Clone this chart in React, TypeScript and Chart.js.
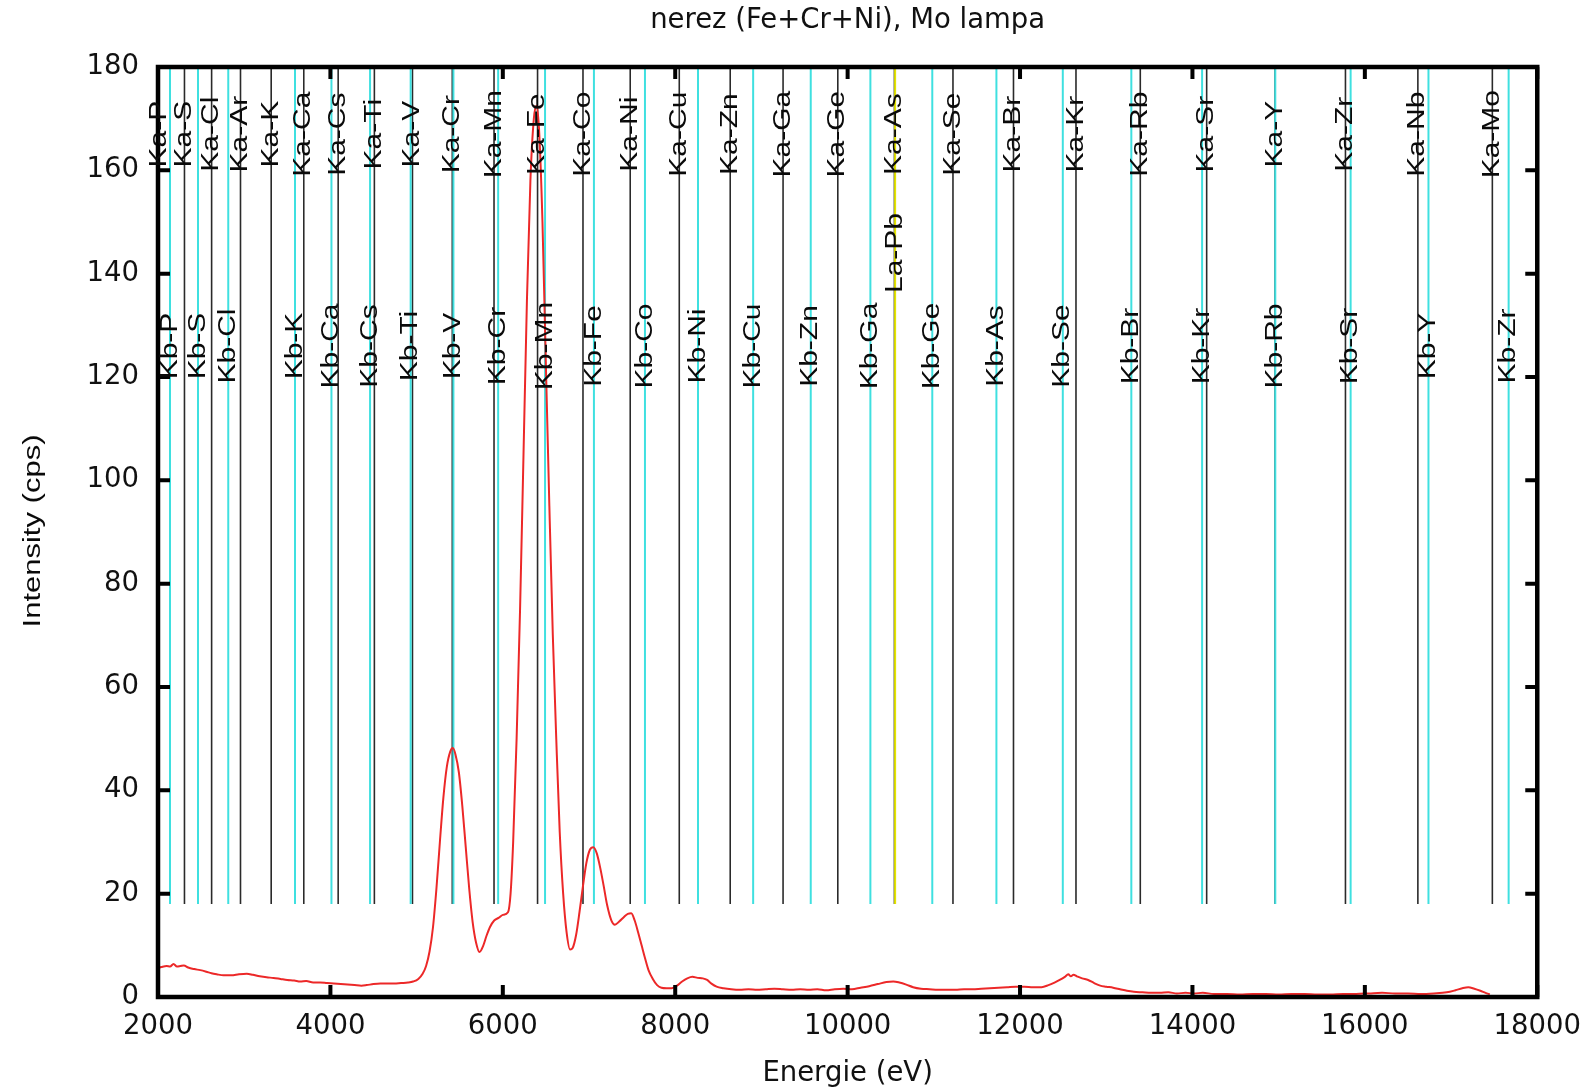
import React, { useEffect, useRef } from "react";
import { Chart, registerables } from "chart.js";

Chart.register(...registerables);

// ---------- data ----------
const TITLE = "nerez (Fe+Cr+Ni), Mo lampa";
const X_TITLE = "Energie (eV)";
const Y_TITLE = "Intensity (cps)";

const X_MIN = 2000;
const X_MAX = 18000;
const X_STEP = 2000;
const Y_MIN = 0;
const Y_MAX = 180;
const Y_STEP = 20;

// measured spectrum (energy in eV, intensity in cps)
const SPEC_E = [
  2000, 2040, 2100, 2140, 2180, 2220, 2260, 2300, 2350, 2420, 2490, 2560, 2620, 2680, 2760, 2850, 2940, 3030, 3100, 3180,
  3260, 3340, 3420, 3500, 3580, 3650, 3720, 3800, 3880, 3960, 4040, 4120, 4200, 4280, 4360, 4420, 4500, 4580, 4660, 4740,
  4820, 4900, 4960, 5020, 5070, 5110, 5150, 5190, 5230, 5270, 5310, 5350, 5390, 5420, 5450, 5490, 5530, 5570, 5610, 5650,
  5690, 5730, 5770, 5810, 5850, 5900, 5950, 6000, 6060, 6090, 6120, 6160, 6200, 6240, 6280, 6320, 6360, 6390, 6420, 6460,
  6500, 6540, 6580, 6620, 6660, 6700, 6740, 6780, 6810, 6850, 6890, 6930, 6970, 7010, 7050, 7090, 7130, 7170, 7210, 7260,
  7300, 7350, 7400, 7450, 7490, 7530, 7570, 7610, 7650, 7690, 7740, 7790, 7840, 7900, 7960, 8020, 8080, 8140, 8200, 8260,
  8320, 8370, 8420, 8480, 8560, 8650, 8750, 8850, 8950, 9050, 9150, 9250, 9350, 9450, 9550, 9650, 9750, 9850, 9950, 10050,
  10150, 10250, 10350, 10450, 10530, 10600, 10680, 10760, 10850, 10950, 11050, 11150, 11250, 11350, 11450, 11550, 11650, 11750, 11850, 11950,
  12050, 12150, 12250, 12330, 12400, 12460, 12520, 12560, 12590, 12620, 12660, 12720, 12790, 12860, 12930, 13000, 13080, 13160, 13240, 13320,
  13420, 13520, 13620, 13720, 13820, 13920, 14020, 14120, 14250, 14400, 14550, 14700, 14850, 15000, 15150, 15300, 15450, 15600, 15750, 15900,
  16050, 16200, 16350, 16500, 16650, 16800, 16950, 17050, 17130, 17200, 17270, 17340, 17400, 17450,
];
const SPEC_I = [
  5.6, 5.8, 6.0, 5.9, 6.4, 5.9, 6.0, 6.1, 5.7, 5.4, 5.2, 4.9, 4.6, 4.4, 4.2, 4.2, 4.4, 4.5, 4.3, 4.0,
  3.8, 3.7, 3.5, 3.3, 3.2, 3.0, 3.1, 2.8, 2.8, 2.7, 2.6, 2.5, 2.4, 2.3, 2.2, 2.3, 2.5, 2.6, 2.6, 2.6,
  2.7, 2.8, 3.0, 3.5, 4.5, 6.0, 8.8, 13.5, 21, 30, 38.5, 44.5, 47.5, 48.2, 47, 43.5, 37, 29, 21, 14.5,
  10.5, 8.7, 9.8, 11.8, 13.5, 14.8, 15.3, 15.9, 16.4, 20, 30, 50, 75, 105, 135, 158, 170, 172.5, 168, 150,
  122, 95, 70, 50, 32, 20, 12.5, 9.2, 9.5, 12, 16.5, 21.5, 26, 28.5, 29, 27.8, 25, 21.5, 17.8, 14.8,
  14.0, 14.6, 15.4, 16.1, 16.2, 14.8, 12.5, 10, 7.5, 5.2, 3.5, 2.3, 1.8, 1.7, 1.7, 2.2, 3.0, 3.6, 3.9, 3.7,
  3.6, 3.3, 2.6, 2.0, 1.7, 1.5, 1.4, 1.5, 1.4, 1.5, 1.6, 1.5, 1.4, 1.5, 1.4, 1.5, 1.3, 1.5, 1.6, 1.5,
  1.8, 2.1, 2.5, 2.9, 3.0, 2.8, 2.4, 1.9, 1.6, 1.5, 1.4, 1.4, 1.4, 1.5, 1.5, 1.6, 1.7, 1.8, 1.9, 2.0,
  2.0, 1.9, 1.9, 2.3, 2.8, 3.3, 3.9, 4.4, 4.0, 4.3, 4.0, 3.6, 3.3, 2.7, 2.2, 2.0, 1.8, 1.5, 1.2, 1.0,
  0.9, 0.8, 0.8, 0.9, 0.7, 0.8, 0.7, 0.8, 0.6, 0.6, 0.5, 0.6, 0.6, 0.5, 0.6, 0.6, 0.5, 0.5, 0.6, 0.6,
  0.7, 0.8, 0.7, 0.7, 0.6, 0.7, 0.9, 1.3, 1.7, 1.9, 1.6, 1.2, 0.8, 0.5,
];

// marker lines
const KA_NAMES = ["P", "S", "Cl", "Ar", "K", "Ca", "Cs", "Ti", "V", "Cr", "Mn", "Fe", "Co", "Ni", "Cu", "Zn", "Ga", "Ge", "As", "Se", "Br", "Kr", "Rb", "Sr", "Y", "Zr", "Nb", "Mo"];
const KA_ENERGY = [2013, 2307, 2622, 2957, 3313, 3691, 4090, 4510, 4952, 5414, 5898, 6403, 6930, 7478, 8047, 8638, 9251, 9886, 10543, 11222, 11924, 12649, 13395, 14165, 14958, 15775, 16615, 17479];
const KB_NAMES = ["P", "S", "Cl", "K", "Ca", "Cs", "Ti", "V", "Cr", "Mn", "Fe", "Co", "Ni", "Cu", "Zn", "Ga", "Ge", "As", "Se", "Br", "Kr", "Rb", "Sr", "Y", "Zr"];
const KB_ENERGY = [2139, 2464, 2815, 3589, 4012, 4460, 4931, 5427, 5946, 6490, 7057, 7649, 8264, 8904, 9572, 10264, 10982, 11726, 12496, 13291, 14112, 14961, 15835, 16738, 17668];
const LA_NAMES = ["Pb"];
const LA_ENERGY = [10551];

const LINE_BOTTOM = 18; // cps, where marker lines start
const LINE_TOP = 180;
const KA_LABEL_Y = 167;
const KB_LABEL_Y = 126;
const LA_LABEL_Y = 144;

// ---------- helpers ----------
function markerData(energies: number[]) {
  const out: { x: number; y: number | null }[] = [];
  energies.forEach((e) => {
    out.push({ x: e, y: LINE_BOTTOM });
    out.push({ x: e, y: LINE_TOP });
    out.push({ x: e, y: null });
  });
  return out;
}

const W = 1594;
const H = 1092;
const AREA = { left: 158, right: 1540, top: 67, bottom: 997 };

const decorPlugin = {
  id: "decor",
  afterDatasetsDraw(chart: any) {
    const ctx = chart.ctx as CanvasRenderingContext2D;
    const xs = chart.scales.x;
    const ys = chart.scales.y;
    const ca = chart.chartArea;
    ctx.save();

    // border
    ctx.strokeStyle = "#000";
    ctx.lineWidth = 4.5;
    ctx.strokeRect(ca.left, ca.top, ca.right - ca.left, ca.bottom - ca.top);

    // inward ticks on all sides
    const tl = 12;
    ctx.lineWidth = 4;
    ctx.beginPath();
    for (let v = X_MIN; v <= X_MAX; v += X_STEP) {
      const px = xs.getPixelForValue(v);
      ctx.moveTo(px, ca.bottom);
      ctx.lineTo(px, ca.bottom - tl);
      ctx.moveTo(px, ca.top);
      ctx.lineTo(px, ca.top + tl);
    }
    for (let v = Y_MIN; v <= Y_MAX; v += Y_STEP) {
      const py = ys.getPixelForValue(v);
      ctx.moveTo(ca.left, py);
      ctx.lineTo(ca.left + tl, py);
      ctx.moveTo(ca.right, py);
      ctx.lineTo(ca.right - tl, py);
    }
    ctx.stroke();

    // rotated element labels
    const drawRot = (text: string, px: number, py: number, size: number, squeeze: number) => {
      ctx.save();
      ctx.translate(px, py);
      ctx.rotate(-Math.PI / 2);
      ctx.scale(1, squeeze);
      ctx.font = `${size}px "Liberation Sans", Arial, sans-serif`;
      ctx.textAlign = "center";
      ctx.textBaseline = "middle";
      ctx.fillStyle = "#0a0a0a";
      ctx.fillText(text, 0, 0);
      ctx.restore();
    };
    KA_NAMES.forEach((n, i) => drawRot(`Ka-${n}`, xs.getPixelForValue(KA_ENERGY[i]), ys.getPixelForValue(KA_LABEL_Y), 30, 0.8));
    KB_NAMES.forEach((n, i) => drawRot(`Kb-${n}`, xs.getPixelForValue(KB_ENERGY[i]), ys.getPixelForValue(KB_LABEL_Y), 30, 0.8));
    LA_NAMES.forEach((n, i) => drawRot(`La-${n}`, xs.getPixelForValue(LA_ENERGY[i]), ys.getPixelForValue(LA_LABEL_Y), 30, 0.8));

    // y axis title
    drawRot(Y_TITLE, 33, (ca.top + ca.bottom) / 2 - 1, 31, 0.78);

    // title and x title
    ctx.fillStyle = "#111";
    ctx.font = `27.5px "DejaVu Sans", sans-serif`;
    ctx.textAlign = "center";
    ctx.textBaseline = "middle";
    const cx = (ca.left + ca.right) / 2;
    ctx.fillText(TITLE, cx, 21);
    ctx.font = `27.5px "DejaVu Sans", sans-serif`;
    ctx.fillText(X_TITLE, cx, 1074);

    ctx.restore();
  },
};

export default function App() {
  const ref = useRef<HTMLCanvasElement | null>(null);

  useEffect(() => {
    if (!ref.current) return;
    const chart = new Chart(ref.current, {
      type: "line",
      data: {
        datasets: [
          {
            label: "spectrum",
            data: SPEC_E.map((e, i) => ({ x: e, y: SPEC_I[i] })),
            borderColor: "rgb(236,40,40)",
            borderWidth: 2,
            pointRadius: 0,
            cubicInterpolationMode: "monotone",
            order: 0,
          },
          {
            label: "La",
            data: markerData(LA_ENERGY),
            borderColor: "#e4e400",
            borderWidth: 2,
            pointRadius: 0,
            spanGaps: false,
            order: 1,
          },
          {
            label: "Kb",
            data: markerData(KB_ENERGY),
            borderColor: "#3fe0e0",
            borderWidth: 2,
            pointRadius: 0,
            spanGaps: false,
            order: 2,
          },
          {
            label: "Ka",
            data: markerData(KA_ENERGY),
            borderColor: "#2a2a2a",
            borderWidth: 1.6,
            pointRadius: 0,
            spanGaps: false,
            order: 3,
          },
        ],
      } as any,
      options: {
        responsive: false,
        animation: false,
        layout: { padding: { top: AREA.top, right: W - AREA.right, left: 0, bottom: 0 } },
        plugins: { legend: { display: false }, tooltip: { enabled: false }, title: { display: false } },
        scales: {
          x: {
            type: "linear",
            min: X_MIN,
            max: X_MAX,
            grid: { display: false, drawTicks: false },
            border: { display: false },
            ticks: {
              stepSize: X_STEP,
              autoSkip: false,
              maxRotation: 0,
              padding: 13,
              color: "#111",
              font: { family: "DejaVu Sans", size: 27.5 },
              callback: (v: any) => String(v),
            },
            afterFit: (s: any) => {
              s.height = H - AREA.bottom;
            },
          },
          y: {
            type: "linear",
            min: Y_MIN,
            max: Y_MAX,
            grid: { display: false, drawTicks: false },
            border: { display: false },
            ticks: {
              stepSize: Y_STEP,
              padding: 19,
              color: "#111",
              font: { family: "DejaVu Sans", size: 27.5 },
              callback: (v: any) => String(v),
            },
            afterFit: (s: any) => {
              s.width = AREA.left;
            },
          },
        },
      } as any,
      plugins: [decorPlugin],
    });
    return () => chart.destroy();
  }, []);

  return (
    <div style={{ position: "absolute", left: 0, top: 0, width: W, height: H, background: "#fff" }}>
      <canvas ref={ref} width={W} height={H} style={{ display: "block" }} />
    </div>
  );
}
